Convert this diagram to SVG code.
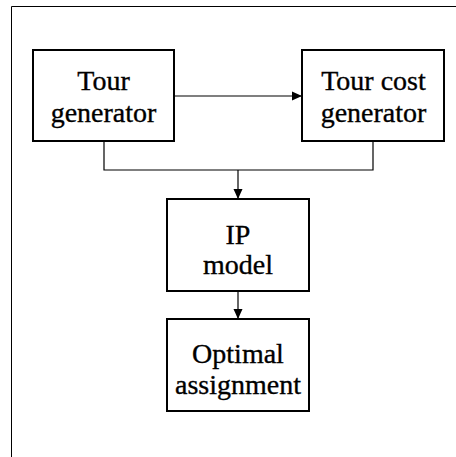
<svg xmlns="http://www.w3.org/2000/svg" width="456" height="457" viewBox="0 0 456 457">
<style>
.box{fill:#fff;stroke:#000;stroke-width:2}
.t{font-family:"Liberation Serif","Times New Roman",serif;font-size:28px;fill:#000;stroke:#000;stroke-width:0.35;text-anchor:middle}
.c{fill:none;stroke:#000;stroke-width:1.2}
</style>
<defs>
<marker id="ah" viewBox="0 0 10 10" refX="10" refY="5" markerWidth="10" markerHeight="10" markerUnits="userSpaceOnUse" orient="auto">
<path d="M0,0.5 L10,5 L0,9.5 Z" fill="#000"/>
</marker>
</defs>
<rect width="456" height="457" fill="#fff"/>
<path d="M11.5,457 V6.5 H456" fill="none" stroke="#000" stroke-width="1"/>
<g id="connectors">
<line class="c" x1="175" y1="96" x2="302" y2="96" stroke-width="2" marker-end="url(#ah)"/>
<path class="c" d="M104,141 V170 H373 V141"/>
<line class="c" x1="238" y1="170" x2="238" y2="199" marker-end="url(#ah)"/>
<line class="c" x1="238" y1="291" x2="238" y2="319" marker-end="url(#ah)"/>
</g>
<g id="tour-generator">
<rect class="box" x="33" y="50" width="141" height="91"/>
<text class="t" x="103.5" y="90">Tour</text>
<text class="t" x="103.5" y="122">generator</text>
</g>
<g id="tour-cost-generator">
<rect class="box" x="302" y="50" width="142" height="91"/>
<text class="t" x="373.5" y="90">Tour cost</text>
<text class="t" x="373.5" y="122">generator</text>
</g>
<g id="ip-model">
<rect class="box" x="167" y="199" width="142" height="92"/>
<text class="t" x="238" y="244">IP</text>
<text class="t" x="238" y="274">model</text>
</g>
<g id="optimal-assignment">
<rect class="box" x="167" y="319" width="142" height="92"/>
<text class="t" x="238" y="363">Optimal</text>
<text class="t" x="238" y="394">assignment</text>
</g>
</svg>
